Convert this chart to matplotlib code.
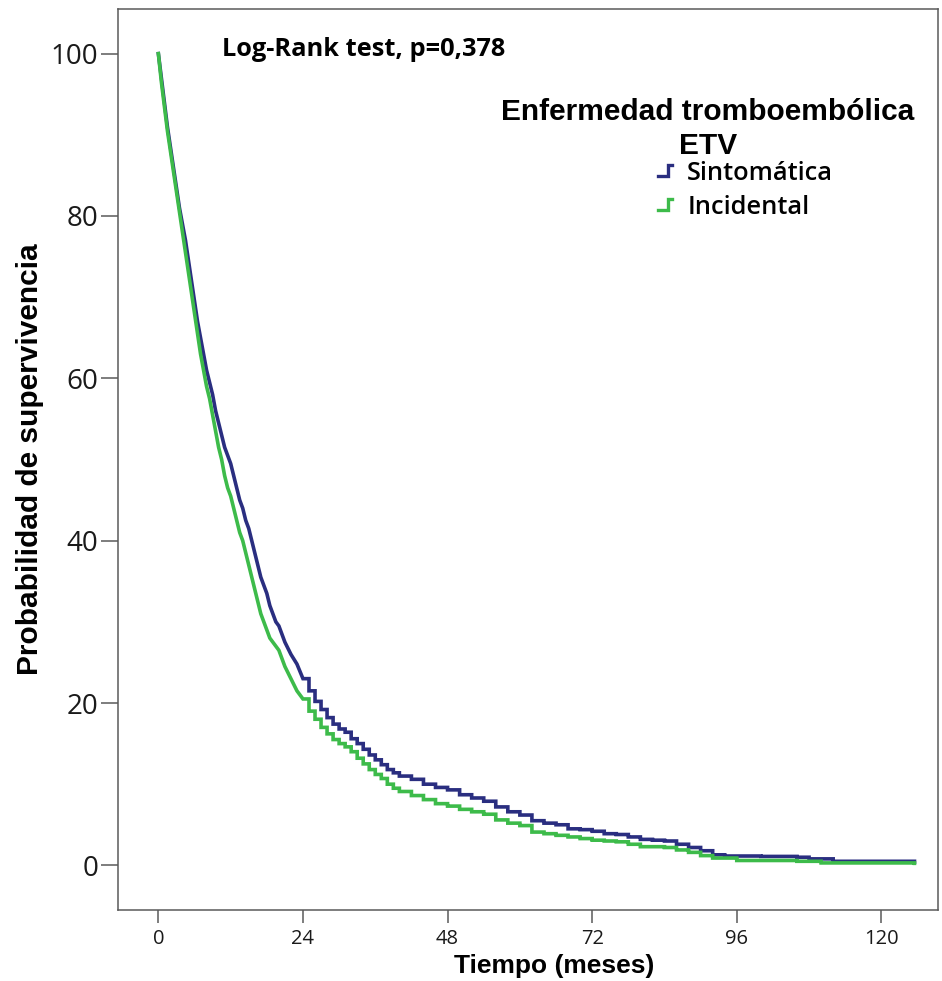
import matplotlib
matplotlib.use('Agg')
import matplotlib.pyplot as plt
from matplotlib.legend_handler import HandlerBase
from matplotlib.lines import Line2D

# Kaplan-Meier curves read as (months, survival %)
t_sint = [0, 0.5, 1, 1.5, 2, 2.5, 3, 3.5, 4, 4.5, 5, 5.5, 6, 6.5, 7, 7.5, 8, 8.5,
          9, 9.5, 10, 10.5, 11, 11.5, 12, 12.5, 13, 13.5, 14, 14.5, 15, 15.5, 16,
          16.5, 17, 17.5, 18, 18.5, 19, 19.5, 20, 21, 22, 23, 24, 25, 26, 27, 28,
          29, 30, 31, 32, 33, 34, 35, 36, 37, 38, 39, 40, 42, 44, 46, 48, 50, 52,
          54, 56, 58, 60, 62, 64, 66, 68, 70, 72, 74, 76, 78, 80, 82, 84, 86, 88,
          90, 92, 94, 100, 106, 108, 112, 125.5]
s_sint = [100, 97, 94, 91, 88.5, 86, 83.5, 81, 79, 77, 74.5, 72, 69.5, 67, 65,
          63, 61, 59.5, 58, 56, 54.5, 53, 51.5, 50.5, 49.5, 48, 46.5, 45, 44,
          42.5, 41.5, 40, 38.5, 37, 35.5, 34.5, 33.5, 32, 31, 30, 29.5, 27.5, 26,
          24.8, 23, 21.5, 20.2, 19.2, 18.2, 17.4, 16.8, 16.4, 15.6, 15, 14.3, 13.6,
          13, 12.4, 11.8, 11.4, 11, 10.6, 10, 9.6, 9.3, 8.7, 8.3, 7.9, 7.2, 6.6,
          6.2, 5.5, 5.2, 5.0, 4.5, 4.4, 4.2, 3.9, 3.8, 3.5, 3.2, 3.1, 3.0, 2.6,
          2.2, 1.8, 1.3, 1.15, 1.1, 1.0, 0.8, 0.5, 0.4]

t_inc = [0, 0.5, 1, 1.5, 2, 2.5, 3, 3.5, 4, 4.5, 5, 5.5, 6, 6.5, 7, 7.5, 8, 8.5,
         9, 9.5, 10, 10.5, 11, 11.5, 12, 12.5, 13, 13.5, 14, 14.5, 15, 15.5, 16,
         16.5, 17, 17.5, 18, 18.5, 19, 19.5, 20, 21, 22, 23, 24, 25, 26, 27, 28,
         29, 30, 31, 32, 33, 34, 35, 36, 37, 38, 39, 40, 42, 44, 46, 48, 50, 52,
         54, 56, 58, 60, 62, 64, 66, 68, 70, 72, 74, 76, 78, 80, 84, 86, 88, 90,
         92, 96, 106, 110, 125.5]
s_inc = [100, 96.5, 93.5, 90.5, 88, 85.5, 83, 80.5, 78, 75.5, 73, 70.5, 68, 65.5,
         63, 61, 59, 57.5, 55.5, 53.5, 51.5, 50, 48, 46.5, 45.5, 44, 42.5, 41, 40,
         38.5, 37, 35.5, 34, 32.5, 31, 30, 29, 28, 27.5, 27, 26.5, 24.5, 23, 21.5,
         20.5, 19, 18, 17, 16.2, 15.5, 15, 14.6, 14, 13.2, 12.5, 11.8, 11.2, 10.7,
         10, 9.5, 9.1, 8.6, 8.1, 7.6, 7.3, 6.9, 6.6, 6.3, 5.6, 5.2, 4.9, 4.1, 3.9,
         3.7, 3.5, 3.3, 3.1, 3.0, 2.9, 2.6, 2.3, 2.2, 1.9, 1.6, 1.2, 0.9, 0.6, 0.5,
         0.3, 0.25]

labels = ['Sintomática', 'Incidental']
colors = ['#2a2e80', '#3dbb4a']
x_ticks = [0, 24, 48, 72, 96, 120]
y_ticks = [0, 20, 40, 60, 80, 100]

# the dense early part is drawn as a plain line, the tail as stairs
T_SPLIT = 24


def km_path(t, s):
    xs, ys = [], []
    for i, (ti, si) in enumerate(zip(t, s)):
        if ti > T_SPLIT and i > 0:
            xs.append(ti)
            ys.append(s[i - 1])
        xs.append(ti)
        ys.append(si)
    return xs, ys


class StepHandler(HandlerBase):
    # small stair glyph for the legend entries
    def create_artists(self, legend, orig_handle, xdescent, ydescent,
                       width, height, fontsize, trans):
        x0 = -xdescent
        y0 = -ydescent + height * 0.15
        xs = [x0, x0 + width * 0.7, x0 + width * 0.7, x0 + width]
        ys = [y0, y0, y0 + height * 0.75, y0 + height * 0.75]
        line = Line2D(xs, ys, color=orig_handle.get_color(), lw=2.4,
                      solid_joinstyle='miter', transform=trans)
        return [line]


fig = plt.figure(figsize=(9.42, 9.81), dpi=100)
ax = fig.add_axes([118 / 942, 1 - 910 / 981, (938 - 118) / 942, (910 - 9) / 981])

x1, y1 = km_path(t_sint, s_sint)
x2, y2 = km_path(t_inc, s_inc)
l1, = ax.plot(x1, y1, color=colors[0], lw=2.6, solid_joinstyle='miter')
l2, = ax.plot(x2, y2, color=colors[1], lw=2.6, solid_joinstyle='miter')

ax.set_xlim(-6.7, 129.4)
ax.set_ylim(-5.5, 105.5)
ax.set_xticks(x_ticks)
ax.set_yticks(y_ticks)

for sp in ax.spines.values():
    sp.set_color('#5a5a5a')
    sp.set_linewidth(1.1)
ax.tick_params(axis='y', direction='out', length=12, width=1.1, color='#5a5a5a',
               pad=2, labelsize=20, labelcolor='#1a1a1a')
ax.tick_params(axis='x', direction='out', length=9, width=1.1, color='#5a5a5a',
               pad=5, labelsize=14.5, labelcolor='#1a1a1a')
for lab in ax.get_xticklabels() + ax.get_yticklabels():
    lab.set_family('Open Sans')

ax.set_xlabel('Tiempo (meses)', family='Liberation Sans', fontweight='bold',
              fontsize=19, labelpad=3)
ax.xaxis.label.set_x(0.532)
ax.set_ylabel('Probabilidad de supervivencia', family='Liberation Sans',
              fontweight='bold', fontsize=21.5, labelpad=5)

ax.text(0.127, 0.955, 'Log-Rank test, p=0,378', transform=ax.transAxes,
        family='Open Sans', fontweight='bold', fontsize=18.3, ha='left',
        va='center')

ax.text(0.719, 0.867, 'Enfermedad tromboembólica\nETV', transform=ax.transAxes,
        family='Liberation Sans', fontweight='bold', fontsize=21.5, ha='center',
        va='center', multialignment='center', linespacing=1.25)

ax.legend([l1, l2], labels, handler_map={Line2D: StepHandler()},
          loc='upper left', bbox_to_anchor=(658 / 942, 1 - 161 / 981),
          bbox_transform=fig.transFigure, frameon=False,
          prop={'family': 'Open Sans', 'size': 18.3, 'weight': 'semibold'},
          handlelength=0.55, handleheight=0.55, handletextpad=0.6,
          labelspacing=0.35, borderpad=0, borderaxespad=0)

fig.savefig('out.png', dpi=100)
